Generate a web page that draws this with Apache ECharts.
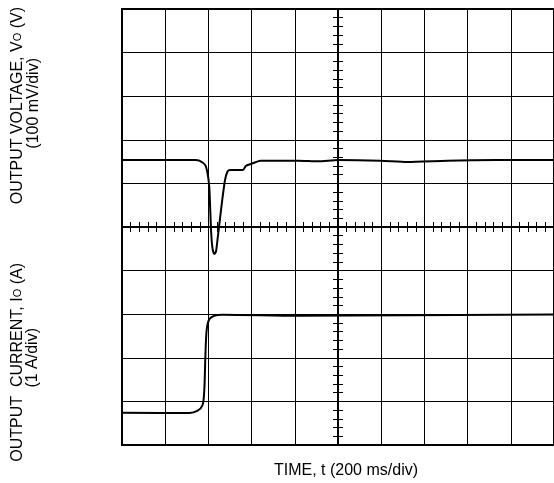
<!DOCTYPE html>
<html><head><meta charset="utf-8">
<script src="https://cdn.jsdelivr.net/npm/echarts@6/dist/echarts.min.js"></script>
<style>html,body{margin:0;padding:0;background:#fff;overflow:hidden}#c{width:554px;height:483px}</style>
</head><body><div id="c"></div>
<script>
// time in ms relative to screen centre (200 ms/div), values in divisions relative to centre
var voltTime = [-1000,-661,-642,-615,-604,-596,-592,-587,-581,-573,-565,-558,-547,-535,-523,-512,-501,-440,-427,-404,-359,-183,-92,0,197,321,505,734,1000];
var voltDiv  = [1.537,1.537,1.521,1.422,1.232,0.924,0.466,-0.144,-0.489,-0.619,-0.567,-0.298,0.161,0.658,1.078,1.268,1.307,1.307,1.399,1.445,1.521,1.521,1.507,1.537,1.521,1.491,1.521,1.537,1.537];
var currTime = [-1000,-688,-650,-627,-619,-614,-608,-596,-573,-535,-183,1000];
var currDiv  = [-4.259,-4.266,-4.213,-4.083,-3.739,-2.975,-2.362,-2.117,-2.034,-2.011,-2.034,-2.007];
var xTitle = 'TIME, t (200 ms/div)';

function pairs(xs, ys){ return xs.map(function(x,i){return [x, ys[i]];}); }

var chart = echarts.init(document.getElementById('c'), null, {renderer:'canvas'});
var ff = '"Liberation Sans", Arial, sans-serif';
var tickStyle = {color:'#000', width:1};
function xAx(withSplit){
  return {type:'value', min:-1000, max:1000, interval:200,
    axisLine:{show:true, onZero:true, lineStyle:{color:'#000', width:2}},
    axisTick:{show:true, inside:true, length:5, lineStyle:tickStyle},
    minorTick:{show:true, splitNumber:5, length:5, lineStyle:tickStyle},
    axisLabel:{show:false},
    splitLine:{show:withSplit, lineStyle:{color:'#000', width:1}}};
}
function yAx(withSplit, pos){
  return {type:'value', min:-5, max:5, interval:1, position:pos,
    axisLine:{show:true, onZero:true, lineStyle:{color:'#000', width:2}},
    axisTick:{show:true, inside:true, length:5, lineStyle:tickStyle},
    minorTick:{show:true, splitNumber:5, length:5, lineStyle:tickStyle},
    axisLabel:{show:false},
    splitLine:{show:withSplit, lineStyle:{color:'#000', width:1}}};
}
var xa0 = xAx(true); xa0.position='bottom';
var xa1 = xAx(false); xa1.position='top';
var rich = {s:{fontSize:11, fontFamily:'Liberation Sans'}};
chart.setOption({
  animation:false,
  backgroundColor:'#fff',
  grid:{left:122, top:9, width:436, height:436, show:true, borderColor:'#000', borderWidth:2, backgroundColor:'transparent'},
  xAxis:[xa0, xa1],
  yAxis:[yAx(true,'left'), yAx(false,'right')],
  series:[
    {type:'line', data:pairs(voltTime, voltDiv), showSymbol:false, smooth:0.2, lineStyle:{color:'#000', width:2}, xAxisIndex:0, yAxisIndex:0},
    {type:'line', data:pairs(currTime, currDiv), showSymbol:false, smooth:0.3, lineStyle:{color:'#000', width:2}, xAxisIndex:0, yAxisIndex:0}
  ],
  graphic:[
    {type:'text', x:18, y:7, rotation:Math.PI/2, style:{text:'OUTPUT VOLTAGE, V{s|O} (V)', font:'16px '+ff, fill:'#000', align:'right', verticalAlign:'middle', rich:rich}},
    {type:'text', x:34, y:58, rotation:Math.PI/2, style:{text:'(100 mV/div)', font:'16px '+ff, fill:'#000', align:'right', verticalAlign:'middle'}},
    {type:'text', x:18, y:263, rotation:Math.PI/2, style:{text:'OUTPUT  CURRENT, I{s|O} (A)', font:'16px '+ff, fill:'#000', align:'right', verticalAlign:'middle', rich:rich}},
    {type:'text', x:33, y:328, rotation:Math.PI/2, style:{text:'(1 A/div)', font:'16px '+ff, fill:'#000', align:'right', verticalAlign:'middle'}},
    {type:'text', x:346, y:471, style:{text:xTitle, font:'16px '+ff, fill:'#000', align:'center', verticalAlign:'middle'}}
  ]
});
</script></body></html>
